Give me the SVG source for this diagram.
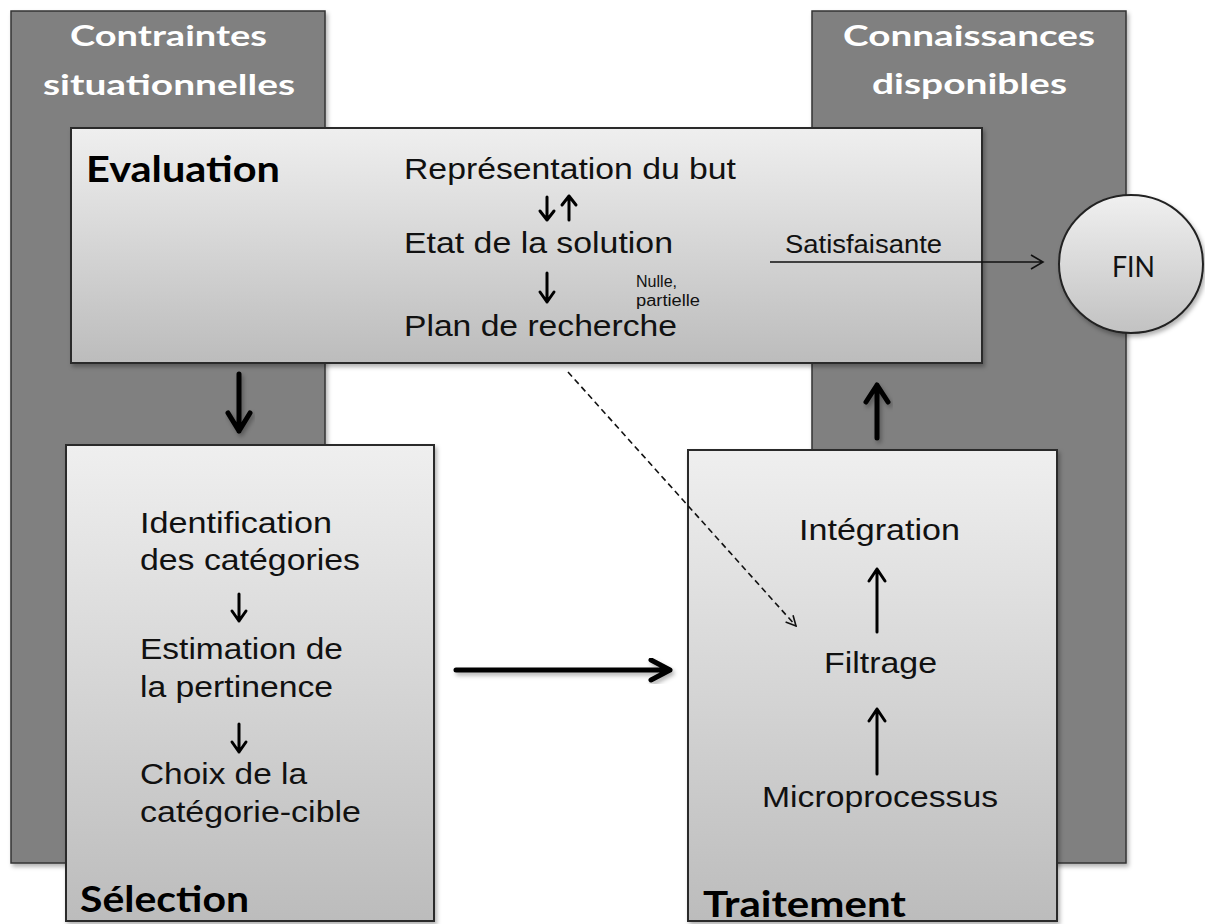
<svg xmlns="http://www.w3.org/2000/svg" width="1205" height="924" viewBox="0 0 1205 924">
  <defs>
    <linearGradient id="boxFill" x1="0" y1="0" x2="0" y2="1">
      <stop offset="0" stop-color="#efefef"/>
      <stop offset="1" stop-color="#bcbcbc"/>
    </linearGradient>
    <linearGradient id="finFill" x1="0" y1="0" x2="0" y2="1">
      <stop offset="0" stop-color="#f0f0f0"/>
      <stop offset="1" stop-color="#c2c2c2"/>
    </linearGradient>
    <filter id="shadow" x="-10%" y="-10%" width="130%" height="130%">
      <feDropShadow dx="2" dy="3" stdDeviation="2" flood-color="#000" flood-opacity="0.3"/>
    </filter>
    <marker id="openHead" viewBox="0 0 12 12" refX="11" refY="6" markerWidth="12" markerHeight="12" markerUnits="userSpaceOnUse" orient="auto">
      <path d="M1,1 L11,6 L1,11" fill="none" stroke="#111" stroke-width="1.6"/>
    </marker>
  </defs>
  <style>
    .panel { fill: #808080; stroke: #333; stroke-width: 1.5; }
    .box { fill: url(#boxFill); stroke: #2a2a2a; stroke-width: 2; }
    .title { font-family: Lato, "Liberation Sans", sans-serif; font-weight: bold; font-size: 28px; fill: #fff; }
    .head { font-family: Lato, "Liberation Sans", sans-serif; font-weight: bold; font-size: 37px; fill: #000; }
    .txt { font-family: "Liberation Sans", Arial, sans-serif; font-size: 29px; fill: #111; }
    .small { font-family: "Liberation Sans", Arial, sans-serif; font-size: 16px; fill: #111; }
    .thick { fill: none; stroke: #000; stroke-width: 5; stroke-linecap: round; stroke-linejoin: round; }
    .thin { fill: none; stroke: #000; stroke-width: 3; stroke-linecap: round; stroke-linejoin: round; }
    .line { fill: none; stroke: #111; stroke-width: 1.6; }
    .dash { fill: none; stroke: #111; stroke-width: 1.6; stroke-dasharray: 6 4; }
  </style>

  <rect width="1205" height="924" fill="#fff"/>

  <!-- background panels -->
  <g id="contraintes">
    <rect class="panel" x="11" y="11" width="314" height="852" filter="url(#shadow)"/>
    <text class="title" x="70" y="46" textLength="197" lengthAdjust="spacingAndGlyphs">Contraintes</text>
    <text class="title" x="43" y="95" textLength="252" lengthAdjust="spacingAndGlyphs">situationnelles</text>
  </g>
  <g id="connaissances">
    <rect class="panel" x="812" y="11" width="314" height="852" filter="url(#shadow)"/>
    <text class="title" x="843" y="46" textLength="252" lengthAdjust="spacingAndGlyphs">Connaissances</text>
    <text class="title" x="872" y="94" textLength="195" lengthAdjust="spacingAndGlyphs">disponibles</text>
  </g>

  <!-- evaluation stage -->
  <g id="evaluation">
    <rect class="box" x="71" y="128" width="911" height="235" filter="url(#shadow)"/>
    <text class="head" x="86" y="182" textLength="194" lengthAdjust="spacingAndGlyphs">Evaluation</text>
    <text class="txt" x="404" y="179" textLength="332" lengthAdjust="spacingAndGlyphs">Représentation du but</text>
    <text class="txt" x="404" y="253" textLength="269" lengthAdjust="spacingAndGlyphs">Etat de la solution</text>
    <text class="txt" x="404" y="336" textLength="273" lengthAdjust="spacingAndGlyphs">Plan de recherche</text>
    <text class="small" x="636" y="287" textLength="41" lengthAdjust="spacingAndGlyphs">Nulle,</text>
    <text class="small" x="636" y="306" textLength="64" lengthAdjust="spacingAndGlyphs">partielle</text>
  </g>

  <!-- selection stage -->
  <g id="selection">
    <rect class="box" x="66" y="445" width="368" height="476" filter="url(#shadow)"/>
    <text class="txt" x="140" y="533" textLength="192" lengthAdjust="spacingAndGlyphs">Identification</text>
    <text class="txt" x="140" y="570" textLength="220" lengthAdjust="spacingAndGlyphs">des catégories</text>
    <text class="txt" x="140" y="659" textLength="203" lengthAdjust="spacingAndGlyphs">Estimation de</text>
    <text class="txt" x="140" y="697" textLength="193" lengthAdjust="spacingAndGlyphs">la pertinence</text>
    <text class="txt" x="140" y="784" textLength="167" lengthAdjust="spacingAndGlyphs">Choix de la</text>
    <text class="txt" x="140" y="822" textLength="221" lengthAdjust="spacingAndGlyphs">catégorie-cible</text>
    <text class="head" x="80" y="912" textLength="169" lengthAdjust="spacingAndGlyphs">Sélection</text>
  </g>

  <!-- processing stage -->
  <g id="traitement">
    <rect class="box" x="688" y="450" width="369" height="471" filter="url(#shadow)"/>
    <text class="txt" x="799" y="540" textLength="161" lengthAdjust="spacingAndGlyphs">Intégration</text>
    <text class="txt" x="824" y="673" textLength="113" lengthAdjust="spacingAndGlyphs">Filtrage</text>
    <text class="txt" x="762" y="807" textLength="236" lengthAdjust="spacingAndGlyphs">Microprocessus</text>
    <text class="head" x="703" y="917" textLength="203" lengthAdjust="spacingAndGlyphs">Traitement</text>
  </g>

  <!-- end node -->
  <g id="fin">
    <ellipse cx="1131" cy="264" rx="72" ry="69" fill="url(#finFill)" stroke="#222" stroke-width="2" filter="url(#shadow)"/>
    <text x="1112" y="277" textLength="43" lengthAdjust="spacingAndGlyphs" font-family="Lato, 'Liberation Sans', sans-serif" font-size="28" fill="#111">FIN</text>
  </g>

  <!-- connectors -->
  <g id="connectors">
    <!-- inside Evaluation -->
    <path class="thin" d="M547,197 V220 M540,211 L547,220 L554,211"/>
    <path class="thin" d="M569,220 V196 M562,205 L569,196 L576,205"/>
    <path class="thin" d="M547,273 V302 M540,292 L547,302 L554,292"/>
    <!-- Satisfaisante -> FIN -->
    <text x="785" y="253" textLength="157" lengthAdjust="spacingAndGlyphs" font-family="'Liberation Sans', Arial, sans-serif" font-size="25" fill="#111">Satisfaisante</text>
    <path class="line" d="M770,262 H1043 M1031,255 L1043,262 L1031,269"/>
    <!-- Evaluation -> Sélection -->
    <path class="thick" d="M239,374 V431 M228,413 L239,431 L250,413" filter="url(#shadow)"/>
    <!-- Traitement -> Connaissances -->
    <path class="thick" d="M877,438 V385 M866,402 L877,385 L888,402" filter="url(#shadow)"/>
    <!-- Sélection -> Traitement -->
    <path class="thick" d="M456,670 H670 M651,660 L670,670 L651,680" filter="url(#shadow)"/>
    <!-- plan de recherche -> Filtrage -->
    <path class="dash" d="M568,372 L796,626" marker-end="url(#openHead)"/>
    <!-- inside Sélection -->
    <path class="thin" d="M239,594 V621 M232,611 L239,621 L246,611"/>
    <path class="thin" d="M239,724 V752 M232,742 L239,752 L246,742"/>
    <!-- inside Traitement -->
    <path class="thin" d="M877,632 V569 M869,581 L877,569 L885,581"/>
    <path class="thin" d="M877,774 V709 M869,721 L877,709 L885,721"/>
  </g>
</svg>
